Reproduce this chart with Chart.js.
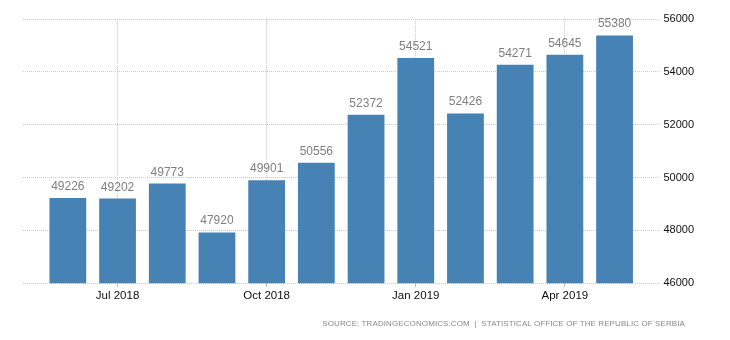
<!DOCTYPE html>
<html>
<head>
<meta charset="utf-8">
<script src="https://cdn.jsdelivr.net/npm/chart.js@4/dist/chart.umd.min.js"></script>
<style>
  html, body { margin: 0; padding: 0; background: #fff; }
  #wrap { position: relative; width: 730px; height: 340px; }
  #source { position: absolute; right: 45px; top: 319px; font-family: "Liberation Sans", Arial, sans-serif; font-size: 8px; letter-spacing: 0.1px; color: #8a8a8a; white-space: nowrap; }
</style>
</head>
<body>
<div id="wrap">
  <canvas id="c" width="730" height="340"></canvas>
  <div id="source">SOURCE: TRADINGECONOMICS.COM &nbsp;|&nbsp; STATISTICAL OFFICE OF THE REPUBLIC OF SERBIA</div>
</div>
<script>
const categories = ["Jun 2018","Jul 2018","Aug 2018","Sep 2018","Oct 2018","Nov 2018","Dec 2018","Jan 2019","Feb 2019","Mar 2019","Apr 2019","May 2019"];
const values = [49226, 49202, 49773, 47920, 49901, 50556, 52372, 54521, 52426, 54271, 54645, 55380];
const shownLabels = ["Jul 2018","Oct 2018","Jan 2019","Apr 2019"];
const yMin = 46000, yMax = 56000, yStep = 2000;

const gridColor = '#cccccc';
const isShown = i => shownLabels.includes(categories[i]);

const valueLabels = {
  id: 'valueLabels',
  afterDatasetsDraw(chart) {
    const ctx = chart.ctx;
    const meta = chart.getDatasetMeta(0);
    ctx.save();
    ctx.font = '12px "Liberation Sans", Arial, sans-serif';
    ctx.fillStyle = '#7f7f7f';
    ctx.textAlign = 'center';
    ctx.textBaseline = 'alphabetic';
    meta.data.forEach((bar, i) => {
      ctx.fillText(String(values[i]), bar.x, bar.y - 8);
    });
    ctx.restore();
  }
};

new Chart(document.getElementById('c'), {
  type: 'bar',
  data: {
    labels: categories,
    datasets: [{
      data: values,
      backgroundColor: '#4682b4',
      borderWidth: 0,
      barPercentage: 0.74,
      categoryPercentage: 1.0
    }]
  },
  options: {
    responsive: false,
    animation: false,
    layout: { padding: { left: 23, right: 32, top: 19, bottom: 35 } },
    plugins: { legend: { display: false }, tooltip: { enabled: false } },
    scales: {
      x: {
        offset: true,
        grid: {
          offset: false,
          drawOnChartArea: true,
          color: ctx => isShown(ctx.index) ? gridColor : 'rgba(0,0,0,0)',
          tickColor: ctx => isShown(ctx.index) ? '#bbbbbb' : 'rgba(0,0,0,0)',
          tickLength: 4,
          lineWidth: 1
        },
        border: { display: false, dash: [1, 1] },
        ticks: {
          autoSkip: false,
          maxRotation: 0,
          padding: 2,
          color: '#111111',
          font: { family: '"Liberation Sans", Arial, sans-serif', size: 11.5 },
          callback: function(val, i) { return isShown(i) ? categories[i] : ''; }
        }
      },
      yL: {
        position: 'left',
        min: yMin, max: yMax,
        grid: { drawOnChartArea: false, tickLength: 20, tickColor: gridColor, tickBorderDash: [1, 1] },
        border: { display: false },
        ticks: { display: false, stepSize: yStep }
      },
      y: {
        position: 'right',
        min: yMin, max: yMax,
        grid: { color: gridColor, tickLength: 20, tickColor: gridColor, tickBorderDash: [1, 1] },
        border: { display: false, dash: [1, 1] },
        ticks: {
          stepSize: yStep,
          padding: 4,
          color: '#111111',
          font: { family: '"Liberation Sans", Arial, sans-serif', size: 11 },
          callback: v => String(v)
        }
      }
    }
  },
  plugins: [valueLabels]
});
</script>
</body>
</html>
